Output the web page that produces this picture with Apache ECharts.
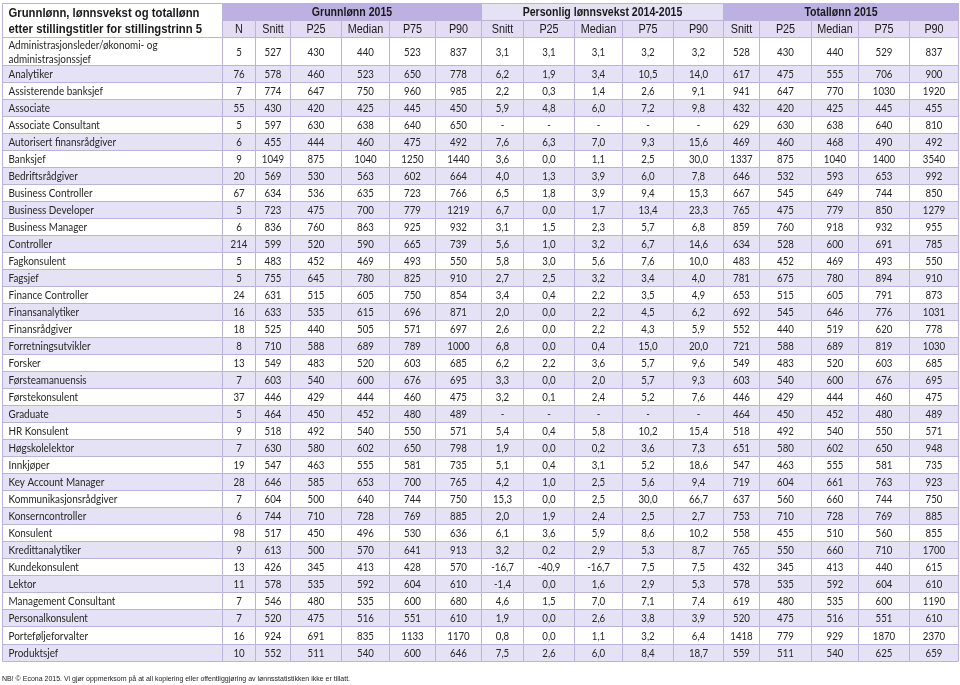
<!DOCTYPE html>
<html>
<head>
<meta charset="utf-8">
<script src="https://cdn.jsdelivr.net/npm/echarts@6/dist/echarts.min.js"></script>
<style>
  html, body { margin: 0; padding: 0; background: #fff; }
  #chart { width: 960px; height: 685px; }
</style>
</head>
<body>
<div id="chart"></div>
<script>
// ---- data ----
const titles = [
  'Administrasjonsleder/økonomi- og\nadministrasjonssjef', 'Analytiker', 'Assisterende banksjef', 'Associate',
  'Associate Consultant', 'Autorisert finansrådgiver', 'Banksjef', 'Bedriftsrådgiver', 'Business Controller',
  'Business Developer', 'Business Manager', 'Controller', 'Fagkonsulent', 'Fagsjef', 'Finance Controller',
  'Finansanalytiker', 'Finansrådgiver', 'Forretningsutvikler', 'Forsker', 'Førsteamanuensis', 'Førstekonsulent',
  'Graduate', 'HR Konsulent', 'Høgskolelektor', 'Innkjøper', 'Key Account Manager', 'Kommunikasjonsrådgiver',
  'Konserncontroller', 'Konsulent', 'Kredittanalytiker', 'Kundekonsulent', 'Lektor', 'Management Consultant',
  'Personalkonsulent', 'Porteføljeforvalter', 'Produktsjef'
]
const antall = [5, 76, 7, 55, 5, 6, 9, 20, 67, 5, 6, 214, 5, 5, 24, 16, 18, 8, 13, 7, 37, 5, 9, 7, 19, 28, 7, 6, 98, 9, 13, 11, 7, 7, 16, 10]

const grunnSnitt = [527, 578, 774, 430, 597, 455, 1049, 569, 634, 723, 836, 599, 483, 755, 631, 633, 525, 710, 549, 603, 446, 464, 518, 630, 547, 646, 604, 744, 517, 613, 426, 578, 546, 520, 924, 552]
const grunnP25 = [430, 460, 647, 420, 630, 444, 875, 530, 536, 475, 760, 520, 452, 645, 515, 535, 440, 588, 483, 540, 429, 450, 492, 580, 463, 585, 500, 710, 450, 500, 345, 535, 480, 475, 691, 511]
const grunnMedian = [440, 523, 750, 425, 638, 460, 1040, 563, 635, 700, 863, 590, 469, 780, 605, 615, 505, 689, 520, 600, 444, 452, 540, 602, 555, 653, 640, 728, 496, 570, 413, 592, 535, 516, 835, 540]
const grunnP75 = [523, 650, 960, 445, 640, 475, 1250, 602, 723, 779, 925, 665, 493, 825, 750, 696, 571, 789, 603, 676, 460, 480, 550, 650, 581, 700, 744, 769, 530, 641, 428, 604, 600, 551, 1133, 600]
const grunnP90 = [837, 778, 985, 450, 650, 492, 1440, 664, 766, 1219, 932, 739, 550, 910, 854, 871, 697, 1000, 685, 695, 475, 489, 571, 798, 735, 765, 750, 885, 636, 913, 570, 610, 680, 610, 1170, 646]

const vekstSnitt = [3.1, 6.2, 2.2, 5.9, null, 7.6, 3.6, 4.0, 6.5, 6.7, 3.1, 5.6, 5.8, 2.7, 3.4, 2.0, 2.6, 6.8, 6.2, 3.3, 3.2, null, 5.4, 1.9, 5.1, 4.2, 15.3, 2.0, 6.1, 3.2, -16.7, -1.4, 4.6, 1.9, 0.8, 7.5]
const vekstP25 = [3.1, 1.9, 0.3, 4.8, null, 6.3, 0.0, 1.3, 1.8, 0.0, 1.5, 1.0, 3.0, 2.5, 0.4, 0.0, 0.0, 0.0, 2.2, 0.0, 0.1, null, 0.4, 0.0, 0.4, 1.0, 0.0, 1.9, 3.6, 0.2, -40.9, 0.0, 1.5, 0.0, 0.0, 2.6]
const vekstMedian = [3.1, 3.4, 1.4, 6.0, null, 7.0, 1.1, 3.9, 3.9, 1.7, 2.3, 3.2, 5.6, 3.2, 2.2, 2.2, 2.2, 0.4, 3.6, 2.0, 2.4, null, 5.8, 0.2, 3.1, 2.5, 2.5, 2.4, 5.9, 2.9, -16.7, 1.6, 7.0, 2.6, 1.1, 6.0]
const vekstP75 = [3.2, 10.5, 2.6, 7.2, null, 9.3, 2.5, 6.0, 9.4, 13.4, 5.7, 6.7, 7.6, 3.4, 3.5, 4.5, 4.3, 15.0, 5.7, 5.7, 5.2, null, 10.2, 3.6, 5.2, 5.6, 30.0, 2.5, 8.6, 5.3, 7.5, 2.9, 7.1, 3.8, 3.2, 8.4]
const vekstP90 = [3.2, 14.0, 9.1, 9.8, null, 15.6, 30.0, 7.8, 15.3, 23.3, 6.8, 14.6, 10.0, 4.0, 4.9, 6.2, 5.9, 20.0, 9.6, 9.3, 7.6, null, 15.4, 7.3, 18.6, 9.4, 66.7, 2.7, 10.2, 8.7, 7.5, 5.3, 7.4, 3.9, 6.4, 18.7]

const totalSnitt = [528, 617, 941, 432, 629, 469, 1337, 646, 667, 765, 859, 634, 483, 781, 653, 692, 552, 721, 549, 603, 446, 464, 518, 651, 547, 719, 637, 753, 558, 765, 432, 578, 619, 520, 1418, 559]
const totalP25 = [430, 475, 647, 420, 630, 460, 875, 532, 545, 475, 760, 528, 452, 675, 515, 545, 440, 588, 483, 540, 429, 450, 492, 580, 463, 604, 560, 710, 455, 550, 345, 535, 480, 475, 779, 511]
const totalMedian = [440, 555, 770, 425, 638, 468, 1040, 593, 649, 779, 918, 600, 469, 780, 605, 646, 519, 689, 520, 600, 444, 452, 540, 602, 555, 661, 660, 728, 510, 660, 413, 592, 535, 516, 929, 540]
const totalP75 = [529, 706, 1030, 445, 640, 490, 1400, 653, 744, 850, 932, 691, 493, 894, 791, 776, 620, 819, 603, 676, 460, 480, 550, 650, 581, 763, 744, 769, 560, 710, 440, 604, 600, 551, 1870, 625]
const totalP90 = [837, 900, 1920, 455, 810, 492, 3540, 992, 850, 1279, 955, 785, 550, 910, 873, 1031, 778, 1030, 685, 695, 475, 489, 571, 948, 735, 923, 750, 885, 855, 1700, 615, 610, 1190, 610, 2370, 659]

const tableTitle = 'Grunnlønn, lønnsvekst og totallønn\netter stillingstitler for stillingstrinn 5'
const groupHeaders = ['Grunnlønn 2015', 'Personlig lønnsvekst 2014-2015', 'Totallønn 2015']
const subHeaders = ['N', 'Snitt', 'P25', 'Median', 'P75', 'P90', 'Snitt', 'P25', 'Median', 'P75', 'P90', 'Snitt', 'P25', 'Median', 'P75', 'P90']
const footnote = 'NB! © Econa 2015. Vi gjør oppmerksom på at all kopiering eller offentliggjøring av lønnsstatistikken ikke er tillatt.'

// ---- layout ----
const colEdges = [2, 222, 255, 290, 341, 389, 435, 481, 523, 574, 622, 673, 723, 759, 811, 858, 909, 958]
const groupCols = [[1, 7], [7, 12], [12, 17]]
const headTop = 3
const headMid = 19.5
const headBottom = 37
const firstRowBottom = 64.5
const rowH = 17.03

const borderColor = '#bbb3dc'
const groupFills = ['#bdb1e3', '#e6e2f6', '#bdb1e3']
const subFill = '#e2ddf3'
const stripeFill = '#e6e2f5'
const bodyFont = '11px Lato, "Open Sans", sans-serif'
const headFont = '12px "Liberation Sans", Arial, sans-serif'

const columns = [antall, grunnSnitt, grunnP25, grunnMedian, grunnP75, grunnP90,
  vekstSnitt, vekstP25, vekstMedian, vekstP75, vekstP90,
  totalSnitt, totalP25, totalMedian, totalP75, totalP90]

const fmtVekst = v => v === null ? '-' : v.toFixed(1).replace('.', ',')

const cells = []
const addCell = (x0, y0, x1, y1, text, opt) => {
  cells.push(Object.assign({ value: [x0, y0, x1, y1], text: text }, opt))
}

// header
addCell(colEdges[0], headTop, colEdges[1], headBottom, tableTitle,
  { fill: '#ffffff', align: 'left', font: 'bold 13px "Liberation Sans", Arial, sans-serif', color: '#1a1a1a', lineHeight: 16, sx: 0.87, pad: 6 })
groupHeaders.forEach((g, i) => {
  addCell(colEdges[groupCols[i][0]], headTop, colEdges[groupCols[i][1]], headMid, g,
    { fill: groupFills[i], align: 'center', font: 'bold ' + headFont, color: '#1a1a1a', sx: 0.88 })
})
subHeaders.forEach((s, i) => {
  addCell(colEdges[i + 1], headMid, colEdges[i + 2], headBottom, s,
    { fill: subFill, align: 'center', font: headFont, color: '#1a1a1a', sx: 0.9 })
})

// body
titles.forEach((t, r) => {
  const y0 = r === 0 ? headBottom : firstRowBottom + (r - 1) * rowH
  const y1 = firstRowBottom + r * rowH
  const fill = r % 2 === 1 ? stripeFill : '#ffffff'
  addCell(colEdges[0], y0, colEdges[1], y1, t, { fill, align: 'left', font: bodyFont, color: '#262626', lineHeight: 14, sx: 0.9, pad: 6 })
  columns.forEach((col, c) => {
    const v = col[r]
    const txt = (c >= 6 && c <= 10) ? fmtVekst(v) : String(v)
    addCell(colEdges[c + 1], y0, colEdges[c + 2], y1, txt, { fill, align: 'center', font: bodyFont, color: '#262626', sx: 0.88 })
  })
})

const chart = echarts.init(document.getElementById('chart'))

chart.setOption({
  animation: false,
  title: {
    text: footnote,
    left: 2,
    top: 676,
    padding: 0,
    textStyle: { fontSize: 7, fontWeight: 'normal', fontFamily: '"Liberation Sans", Arial, sans-serif', color: '#222' }
  },
  grid: { left: 0, right: 0, top: 0, bottom: 0 },
  xAxis: { type: 'value', min: 0, max: 960, show: false },
  yAxis: { type: 'value', min: 0, max: 685, inverse: true, show: false },
  series: [{
    type: 'custom',
    coordinateSystem: 'cartesian2d',
    encode: { x: [0, 2], y: [1, 3] },
    data: cells.map(c => c.value),
    renderItem: function (params, api) {
      const c = cells[params.dataIndex]
      const p0 = api.coord([api.value(0), api.value(1)])
      const p1 = api.coord([api.value(2), api.value(3)])
      const x0 = Math.round(p0[0]) + 0.5
      const y0 = Math.round(p0[1]) + 0.5
      const w = Math.round(p1[0]) - Math.round(p0[0])
      const h = Math.round(p1[1]) - Math.round(p0[1])
      return {
        type: 'group',
        children: [{
          type: 'rect',
          shape: { x: x0, y: y0, width: w, height: h },
          style: { fill: c.fill, stroke: borderColor, lineWidth: 1 }
        }, {
          type: 'text',
          x: c.align === 'left' ? x0 + c.pad : x0 + w / 2,
          y: y0 + h / 2 + 0.5,
          scaleX: c.sx,
          style: {
            text: c.text,
            x: 0,
            y: 0,
            align: c.align,
            verticalAlign: 'middle',
            font: c.font,
            fill: c.color,
            lineHeight: c.lineHeight || 14
          }
        }]
      }
    }
  }]
})
</script>
</body>
</html>
